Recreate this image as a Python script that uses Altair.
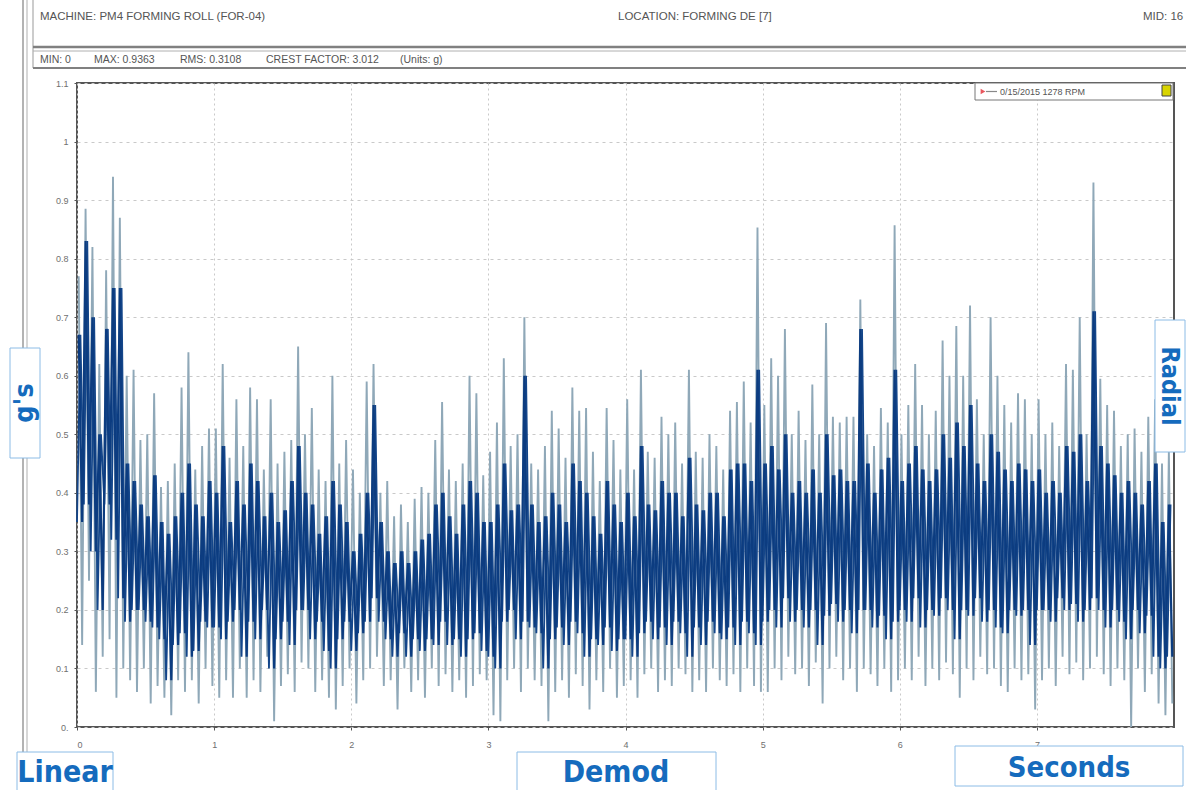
import altair as alt
import pandas as pd

# ---- waveform envelope: 0.05 s bins, 0..8 s ----
BIN = 0.05
peak_max = [
    # 0 s
    0.77, 0.885, 0.82, 0.62, 0.78, 0.94, 0.87, 0.60, 0.61, 0.49, 0.50, 0.57, 0.41, 0.42, 0.45, 0.58, 0.64, 0.44, 0.48, 0.51,
    # 1 s
    0.51, 0.62, 0.46, 0.56, 0.48, 0.58, 0.56, 0.44, 0.56, 0.45, 0.47, 0.49, 0.65, 0.50, 0.545, 0.44, 0.42, 0.60, 0.45, 0.49,
    # 2 s
    0.44, 0.40, 0.59, 0.62, 0.40, 0.42, 0.36, 0.38, 0.35, 0.39, 0.41, 0.40, 0.49, 0.555, 0.44, 0.42, 0.45, 0.60, 0.57, 0.43,
    # 3 s
    0.47, 0.52, 0.63, 0.48, 0.50, 0.70, 0.45, 0.44, 0.48, 0.54, 0.51, 0.46, 0.58, 0.54, 0.545, 0.47, 0.42, 0.545, 0.49, 0.44,
    # 4 s
    0.56, 0.44, 0.61, 0.47, 0.46, 0.53, 0.50, 0.52, 0.45, 0.61, 0.47, 0.46, 0.50, 0.48, 0.44, 0.54, 0.555, 0.59, 0.52, 0.853,
    # 5 s
    0.55, 0.63, 0.60, 0.68, 0.50, 0.54, 0.49, 0.585, 0.50, 0.69, 0.53, 0.52, 0.53, 0.53, 0.73, 0.50, 0.48, 0.545, 0.52, 0.857,
    # 6 s
    0.50, 0.55, 0.62, 0.55, 0.50, 0.54, 0.66, 0.60, 0.685, 0.60, 0.72, 0.56, 0.50, 0.70, 0.60, 0.55, 0.52, 0.57, 0.56, 0.50,
    # 7 s
    0.56, 0.50, 0.52, 0.48, 0.62, 0.61, 0.70, 0.50, 0.93, 0.595, 0.55, 0.54, 0.48, 0.50, 0.51, 0.47, 0.53, 0.56, 0.45, 0.47,
]
peak_min = [
    0.14, 0.25, 0.06, 0.12, 0.15, 0.05, 0.10, 0.08, 0.06, 0.10, 0.04, 0.07, 0.05, 0.02, 0.08, 0.06, 0.08, 0.04, 0.10, 0.07,
    0.05, 0.08, 0.05, 0.10, 0.05, 0.08, 0.06, 0.12, 0.01, 0.07, 0.09, 0.06, 0.11, 0.10, 0.06, 0.08, 0.05, 0.03, 0.07, 0.10,
    0.04, 0.08, 0.10, 0.12, 0.07, 0.08, 0.03, 0.10, 0.06, 0.08, 0.05, 0.10, 0.07, 0.09, 0.06, 0.08, 0.05, 0.07, 0.09, 0.08,
    0.02, 0.01, 0.08, 0.10, 0.06, 0.10, 0.08, 0.07, 0.01, 0.06, 0.08, 0.05, 0.09, 0.07, 0.03, 0.08, 0.06, 0.10, 0.05, 0.07,
    0.08, 0.05, 0.09, 0.10, 0.06, 0.08, 0.07, 0.10, 0.09, 0.06, 0.08, 0.06, 0.10, 0.08, 0.07, 0.09, 0.06, 0.10, 0.07, 0.06,
    0.06, 0.10, 0.08, 0.12, 0.09, 0.10, 0.07, 0.11, 0.04, 0.10, 0.12, 0.08, 0.10, 0.06, 0.10, 0.09, 0.07, 0.10, 0.06, 0.08,
    0.10, 0.08, 0.12, 0.07, 0.10, 0.08, 0.11, 0.09, 0.05, 0.10, 0.08, 0.12, 0.09, 0.10, 0.07, 0.06, 0.10, 0.08, 0.09, 0.03,
    0.08, 0.10, 0.07, 0.12, 0.09, 0.11, 0.08, 0.10, 0.12, 0.09, 0.07, 0.10, 0.08, 0.00, 0.10, 0.06, 0.09, 0.04, 0.02, 0.04,
]
core_hi = [
    0.67, 0.83, 0.70, 0.50, 0.68, 0.75, 0.75, 0.45, 0.42, 0.38, 0.36, 0.43, 0.35, 0.33, 0.36, 0.40, 0.45, 0.38, 0.36, 0.42,
    0.40, 0.48, 0.35, 0.42, 0.38, 0.45, 0.42, 0.36, 0.40, 0.35, 0.37, 0.42, 0.48, 0.40, 0.38, 0.33, 0.36, 0.42, 0.38, 0.35,
    0.30, 0.33, 0.40, 0.55, 0.35, 0.30, 0.28, 0.30, 0.28, 0.30, 0.32, 0.33, 0.38, 0.40, 0.36, 0.33, 0.38, 0.42, 0.40, 0.35,
    0.35, 0.38, 0.45, 0.37, 0.38, 0.60, 0.38, 0.35, 0.36, 0.40, 0.38, 0.35, 0.45, 0.42, 0.40, 0.36, 0.33, 0.42, 0.38, 0.35,
    0.40, 0.36, 0.48, 0.38, 0.37, 0.42, 0.40, 0.40, 0.36, 0.46, 0.38, 0.37, 0.40, 0.40, 0.36, 0.44, 0.45, 0.45, 0.42, 0.61,
    0.45, 0.48, 0.44, 0.50, 0.40, 0.42, 0.40, 0.44, 0.40, 0.50, 0.43, 0.44, 0.42, 0.42, 0.68, 0.45, 0.40, 0.44, 0.46, 0.61,
    0.42, 0.45, 0.48, 0.44, 0.42, 0.44, 0.50, 0.46, 0.52, 0.48, 0.55, 0.45, 0.42, 0.50, 0.47, 0.44, 0.42, 0.45, 0.44, 0.42,
    0.44, 0.40, 0.42, 0.40, 0.48, 0.47, 0.50, 0.42, 0.71, 0.48, 0.45, 0.43, 0.40, 0.42, 0.40, 0.38, 0.42, 0.45, 0.35, 0.38,
]
core_lo = [
    0.35, 0.38, 0.30, 0.20, 0.38, 0.32, 0.22, 0.18, 0.20, 0.20, 0.18, 0.17, 0.15, 0.08, 0.14, 0.16, 0.12, 0.13, 0.18, 0.17,
    0.17, 0.15, 0.18, 0.20, 0.12, 0.18, 0.15, 0.20, 0.10, 0.15, 0.18, 0.14, 0.20, 0.20, 0.15, 0.18, 0.13, 0.10, 0.15, 0.18,
    0.13, 0.16, 0.18, 0.22, 0.18, 0.15, 0.12, 0.16, 0.12, 0.15, 0.13, 0.15, 0.14, 0.18, 0.14, 0.15, 0.12, 0.15, 0.16, 0.13,
    0.12, 0.10, 0.18, 0.20, 0.15, 0.18, 0.17, 0.16, 0.10, 0.15, 0.17, 0.14, 0.18, 0.16, 0.12, 0.15, 0.14, 0.17, 0.13, 0.15,
    0.15, 0.12, 0.16, 0.18, 0.15, 0.17, 0.14, 0.18, 0.16, 0.12, 0.17, 0.14, 0.18, 0.16, 0.15, 0.17, 0.14, 0.18, 0.16, 0.14,
    0.18, 0.20, 0.17, 0.22, 0.18, 0.20, 0.17, 0.20, 0.14, 0.19, 0.21, 0.18, 0.20, 0.16, 0.20, 0.20, 0.17, 0.19, 0.15, 0.18,
    0.20, 0.18, 0.22, 0.17, 0.20, 0.19, 0.22, 0.20, 0.15, 0.20, 0.19, 0.22, 0.18, 0.20, 0.17, 0.16, 0.20, 0.19, 0.20, 0.14,
    0.20, 0.20, 0.18, 0.22, 0.20, 0.21, 0.18, 0.20, 0.22, 0.20, 0.17, 0.20, 0.18, 0.15, 0.20, 0.16, 0.19, 0.12, 0.10, 0.12,
]

y_ticks = [0, 0.1, 0.2, 0.3, 0.4, 0.5, 0.6, 0.7, 0.8, 0.9, 1.0, 1.1]
x_ticks = [0, 1, 2, 3, 4, 5, 6, 7]

header_machine = "MACHINE: PM4 FORMING ROLL (FOR-04)"
header_location = "LOCATION: FORMING DE [7]"
header_mid = "MID: 16"
stats_parts = ["MIN: 0", "MAX: 0.9363", "RMS: 0.3108", "CREST FACTOR: 3.012", "(Units: g)"]
legend_text = "0/15/2015 1278 RPM"

# ---- build tables ----
light_rows, dark_a, dark_b = [], [], []
for i in range(len(peak_max)):
    t0 = i * BIN
    light_rows.append({"t": t0 + 0.0125, "v": peak_max[i]})
    light_rows.append({"t": t0 + 0.0375, "v": peak_min[i]})
    dark_a.append({"t": t0 + 0.0125, "v": core_hi[i]})
    dark_a.append({"t": t0 + 0.0375, "v": core_lo[i]})
    dark_b.append({"t": t0 + 0.0, "v": core_lo[i]})
    dark_b.append({"t": t0 + 0.025, "v": core_hi[i]})
light_df = pd.DataFrame(light_rows)
dark_a_df = pd.DataFrame(dark_a)
dark_b_df = pd.DataFrame(dark_b)

W, H = 1097, 644
GRID = "#c9c9c9"
LBL = "#6f6f6f"
BLUE = "#156bbd"
BOXC = "#8cbce6"
NAVY = "#0c3c80"
NARROW = "Liberation Sans Narrow, DejaVu Sans Condensed, Arial Narrow, sans-serif"

x_enc = alt.X("t:Q", scale=alt.Scale(domain=[0, 8], nice=False, zero=False),
              axis=alt.Axis(values=x_ticks, title=None, grid=True, gridColor=GRID,
                            gridDash=[2, 3], domain=False, tickSize=3, tickColor="#555",
                            labelFontSize=9, labelColor=LBL, labelPadding=10, format="d"))
y_enc = alt.Y("v:Q", scale=alt.Scale(domain=[0, 1.1], nice=False, zero=True),
              axis=alt.Axis(values=y_ticks, title=None, grid=True, gridColor=GRID,
                            gridDash=[3, 4], domain=False, tickSize=3, tickColor="#555",
                            labelFontSize=9, labelColor=LBL, labelPadding=6,
                            labelExpr="datum.value == 0 ? '0.' : (datum.value == 1 ? '1' : datum.label)"))

light = alt.Chart(light_df).mark_line(color="#8fa8b8", strokeWidth=1.9).encode(x=x_enc, y=y_enc)
dark1 = alt.Chart(dark_a_df).mark_line(color=NAVY, strokeWidth=2.2).encode(x=x_enc, y=y_enc)
dark2 = alt.Chart(dark_b_df).mark_line(color="#14468a", strokeWidth=1.8).encode(x=x_enc, y=y_enc)

one = pd.DataFrame({"d": [0]})
base = alt.Chart(one)

def box(x1, x2, y1, y2, fill="white", stroke="#888", sw=1.0):
    return base.mark_rect(fill=fill, stroke=stroke, strokeWidth=sw).encode(
        x=alt.value(x1), x2=alt.value(x2), y=alt.value(y1), y2=alt.value(y2))

def hline(x1, x2, y, color="#888", sw=1.0):
    return base.mark_rule(color=color, strokeWidth=sw).encode(
        x=alt.value(x1), x2=alt.value(x2), y=alt.value(y))

def vline(x, y1, y2, color="#888", sw=1.0):
    return base.mark_rule(color=color, strokeWidth=sw).encode(
        x=alt.value(x), y=alt.value(y1), y2=alt.value(y2))

def label(txt, x, y, size=10, color="#444", align="left", font="Liberation Sans, Arial, sans-serif",
          weight="normal", angle=0):
    return base.mark_text(align=align, baseline="middle", fontSize=size, color=color, font=font,
                          fontWeight=weight, angle=angle).encode(
        x=alt.value(x), y=alt.value(y), text=alt.value(txt))

# stats positions (page x 40, 94, 180, 266, 400)
stats_x = [-37, 17, 103, 189, 323]

# offsets: plot origin at page (77, 83)
deco = [
    # outer page frame lines
    vline(-54, -83, 707, "#9a9a9a", 1.5),
    vline(-50, -83, 707, "#bdbdbd", 1.2),
    # header box
    vline(-44, -83, -15, "#999", 1.0),
    hline(-44, 1115, -36, "#808080", 2.5),
    hline(-44, 1115, -32, "#b0b0b0", 1.0),
    hline(-44, 1115, -15, "#808080", 2.0),
    label(header_machine, -37, -66, size=11.5, color="#555"),
    label(header_location, 541, -66, size=11.5, color="#555"),
    label(header_mid, 1066, -66, size=11.5, color="#555"),
] + [label(s, x, -23, size=10.5, color="#555") for s, x in zip(stats_parts, stats_x)] + [
    # legend
    box(898, 1096, 0, 17, "white", "#777", 1.0),
    base.mark_point(shape="triangle-right", filled=True, color="#e0101a", size=30).encode(
        x=alt.value(906), y=alt.value(8.5)),
    hline(909, 920, 8.5, "#888", 1.2),
    label(legend_text, 923, 8.5, size=9, color="#555"),
    box(1085, 1094, 2, 13, "#d8d400", "#444", 1.0),
    # blue overlay labels
    box(-67, -37, 265, 375, "white", BOXC, 1.0),
    label("g's", -52, 320, size=27, color=BLUE, align="center", font=NARROW, weight="bold", angle=270),
    box(1078, 1108, 237, 369, "white", BOXC, 1.0),
    label("Radial", 1093, 303, size=25, color=BLUE, align="center", font=NARROW, weight="bold", angle=90),
    box(-60, 36, 669, 712, "white", BOXC, 1.0),
    label("Linear", -12, 690, size=30, color=BLUE, align="center", font=NARROW, weight="bold"),
    box(440, 639, 669, 712, "white", BOXC, 1.0),
    label("Demod", 539, 690, size=30, color=BLUE, align="center", font=NARROW, weight="bold"),
    box(878, 1106, 663, 703, "white", BOXC, 1.0),
    label("Seconds", 992, 685, size=29, color=BLUE, align="center", font=NARROW, weight="bold"),
]

chart = alt.layer(light, dark2, dark1, *deco).properties(
    width=W, height=H,
    autosize=alt.AutoSizeParams(type="none"),
    padding={"left": 77, "top": 83, "right": 12, "bottom": 63},
    background="white",
).configure_view(stroke="#555", strokeWidth=2)

chart.save("out.html", embed_options={"renderer": "svg", "actions": False})
